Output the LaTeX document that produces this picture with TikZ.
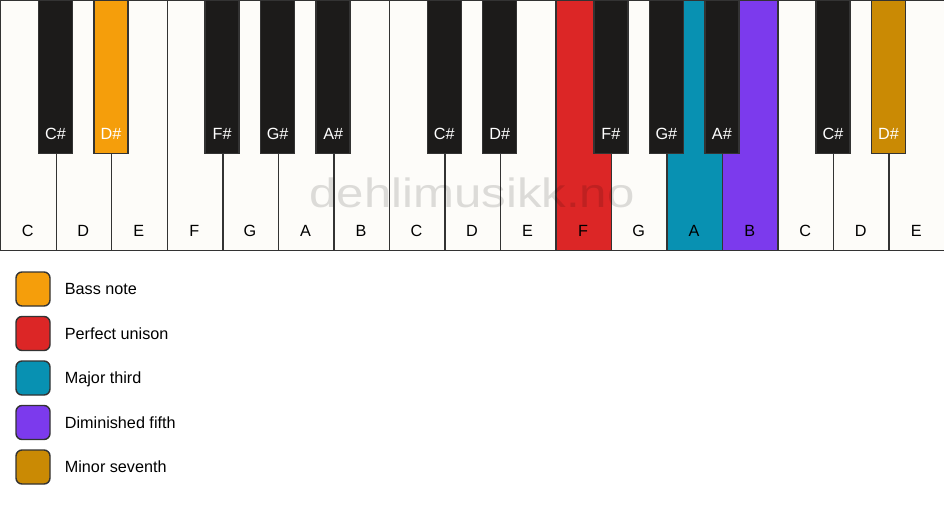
\documentclass[tikz,border=0pt]{standalone}
\usepackage{fontspec}
\setmainfont{Liberation Sans}
\usepackage{xcolor}
\usetikzlibrary{positioning}

\definecolor{keywhite}{HTML}{FDFCF9}
\definecolor{keyblack}{HTML}{1C1B1A}
\definecolor{keyline}{HTML}{333333}
\definecolor{bass}{HTML}{F59E0B}
\definecolor{unison}{HTML}{DC2626}
\definecolor{third}{HTML}{0891B2}
\definecolor{fifth}{HTML}{7C3AED}
\definecolor{seventh}{HTML}{CA8A04}

\tikzset{
    whitekey/.style={draw=keyline, line width=1.4pt, anchor=north west,
        minimum width=55.53pt, minimum height=250pt, inner sep=0pt},
    blackkey/.style={draw=keyline, line width=1.4pt, anchor=north,
        minimum width=34pt, minimum height=153pt, inner sep=0pt},
    keylabel/.style={anchor=base, inner sep=0pt, font=\fontsize{16.2}{19}\selectfont},
    legendbox/.style={draw=keyline, line width=1.4pt, rounded corners=6pt,
        minimum size=34pt, inner sep=0pt},
    legendtext/.style={inner sep=0pt, text height=11.5pt, text depth=0pt,
        font=\fontsize{16.2}{19}\selectfont},
    watermark/.style={anchor=base, inner sep=0pt, text=black, text opacity=0.13,
        xscale=1.2, transform shape, font=\fontsize{41}{48}\selectfont}
}

\def\kw{55.53}

\begin{document}
\begin{tikzpicture}[x=1pt, y=-1pt]
    \useasboundingbox[fill=white] (0,0) rectangle (944,506);

    % white keys
    \foreach \n/\c [count=\i from 0] in {C/keywhite, D/keywhite, E/keywhite, F/keywhite,
            G/keywhite, A/keywhite, B/keywhite, C/keywhite, D/keywhite, E/keywhite,
            F/unison, G/keywhite, A/third, B/fifth, C/keywhite, D/keywhite, E/keywhite}
    {
        \node[whitekey, fill=\c] (w\i) at (\i*\kw, 0) {};
        \node[keylabel] (wl\i) at (\i*\kw+\kw/2, 236) {\n};
    }

    \node[watermark] (wm) at (472, 207) {dehlimusikk.no};

    % black keys
    \foreach \k/\n/\c [count=\j] in {1/C/keyblack, 2/D/bass, 4/F/keyblack, 5/G/keyblack,
            6/A/keyblack, 8/C/keyblack, 9/D/keyblack, 11/F/keyblack, 12/G/keyblack,
            13/A/keyblack, 15/C/keyblack, 16/D/seventh}
    {
        \node[blackkey, fill=\c] (b\j) at (\k*\kw, 0) {};
        \node[keylabel, text=white] (bl\j) at (\k*\kw, 139) {\n\#};
    }

    % legend
    \foreach \t/\c [count=\i from 0] in {Bass note/bass, Perfect unison/unison,
            Major third/third, Diminished fifth/fifth, Minor seventh/seventh}
    {
        \node[legendbox, fill=\c] (lb\i) at (33, 289+\i*44.5) {};
        \node[legendtext, right=14pt of lb\i] (lt\i) {\t};
    }
\end{tikzpicture}
\end{document}
